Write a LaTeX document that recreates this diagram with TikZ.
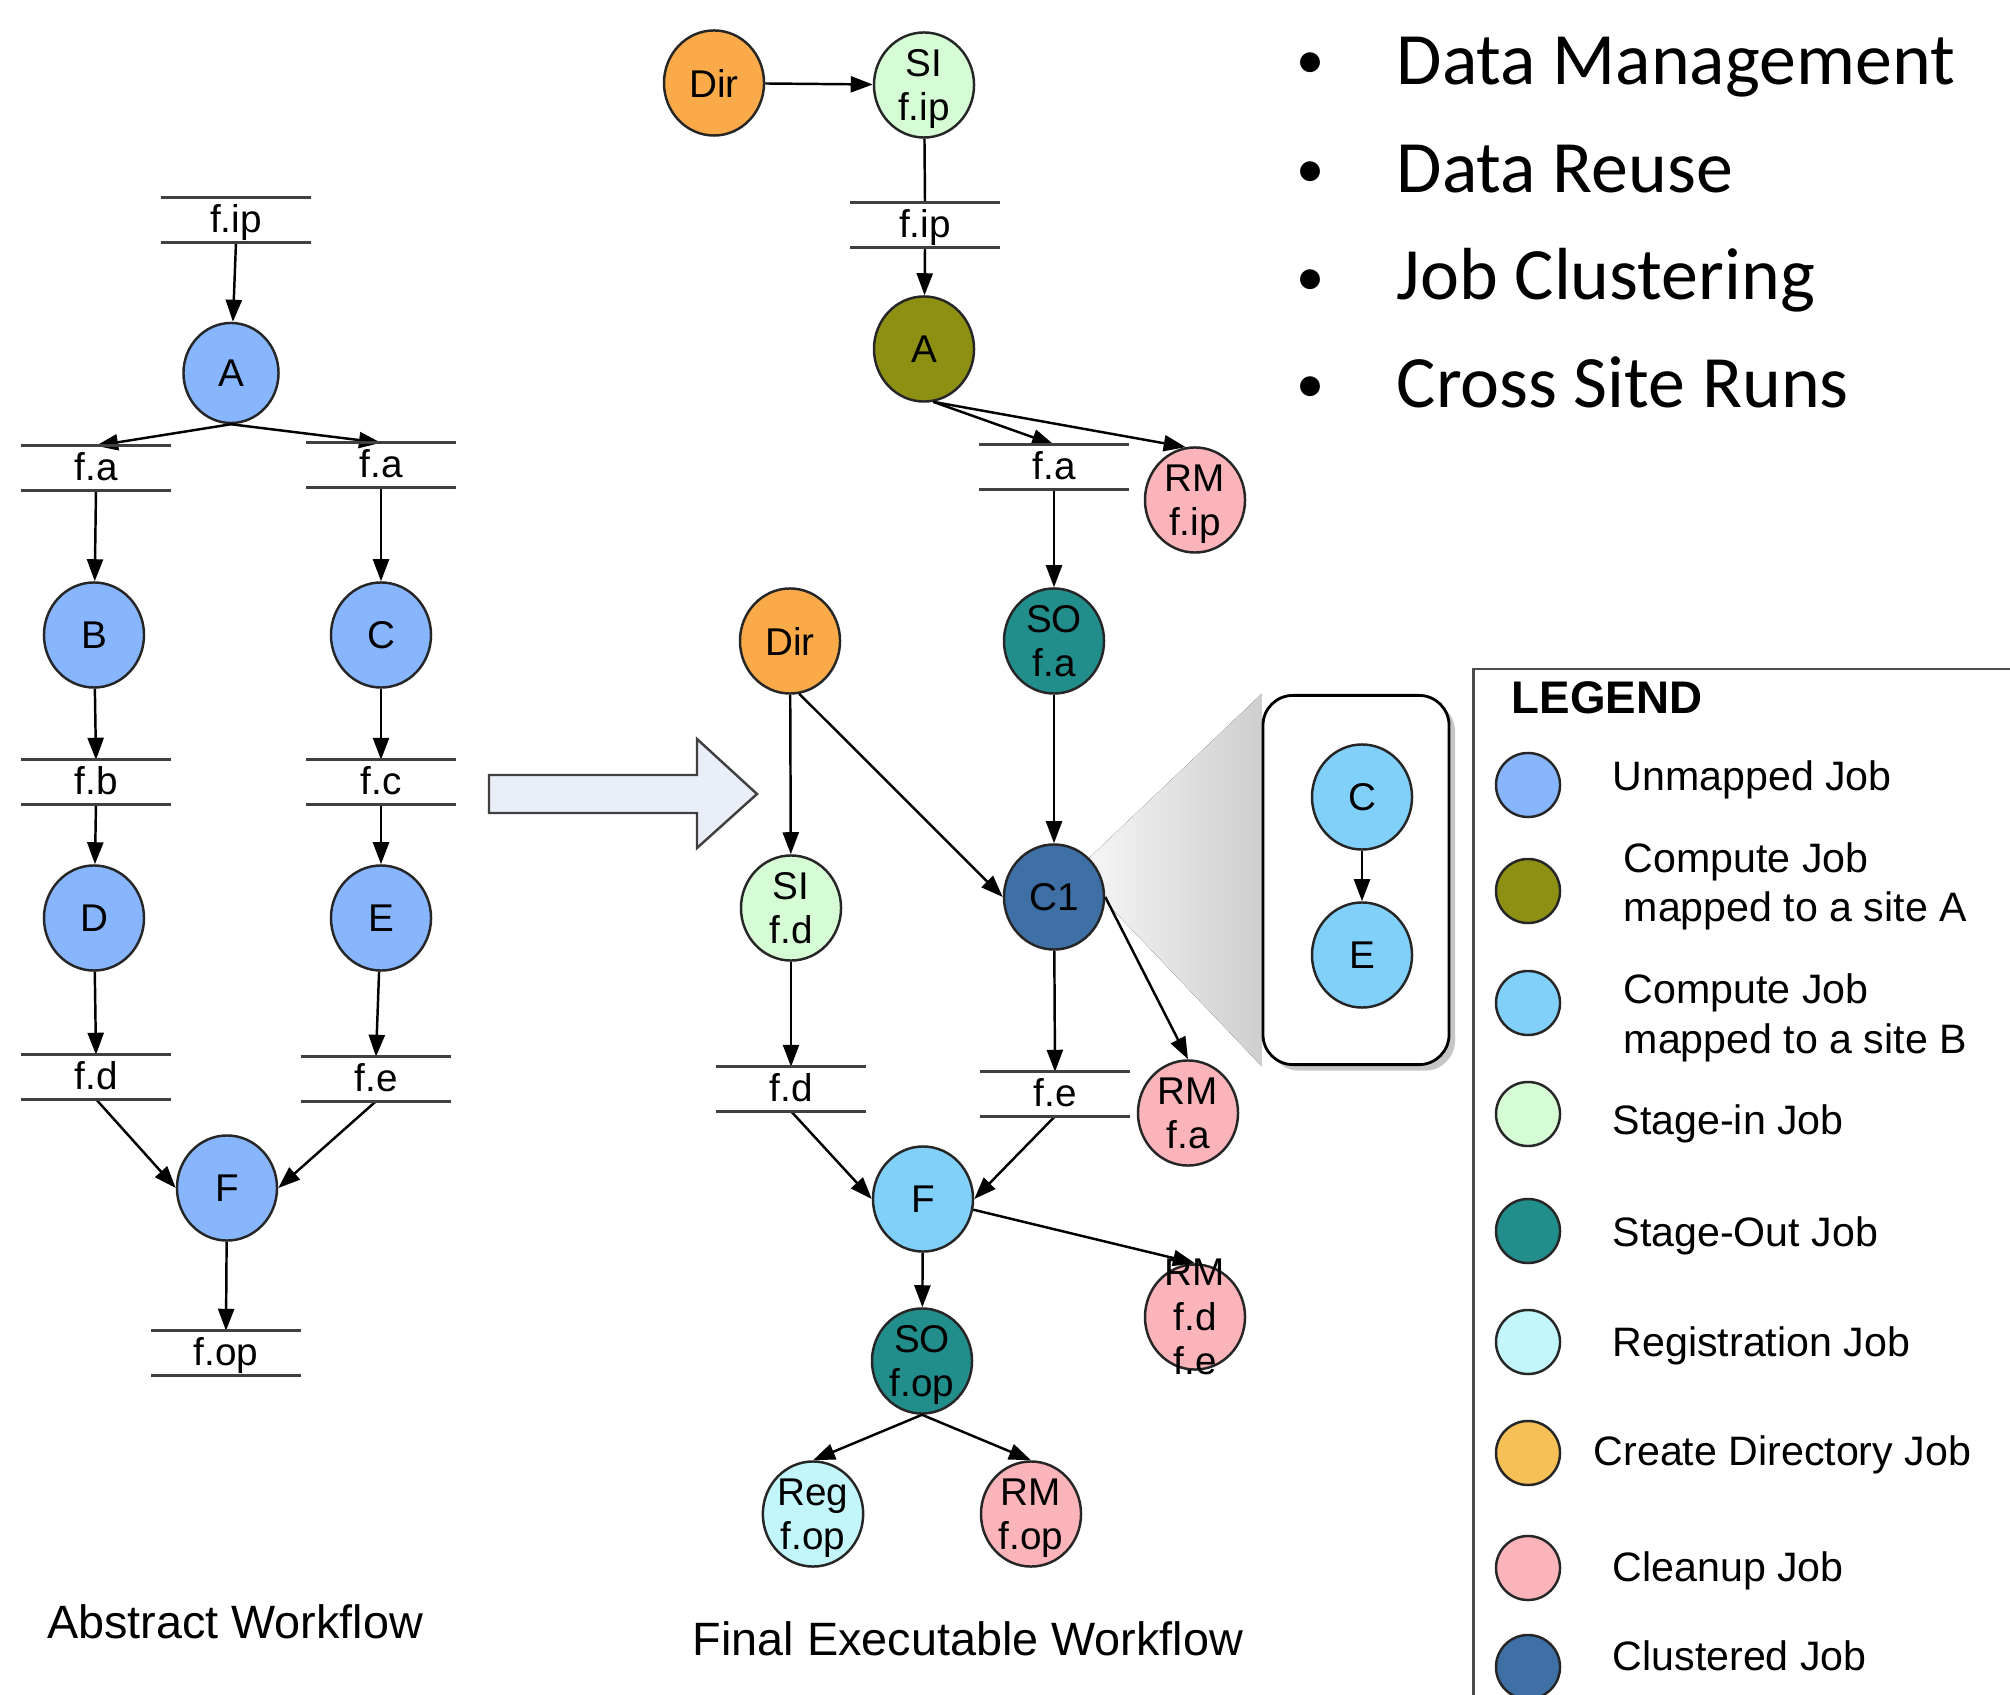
\documentclass[tikz,border=0pt]{standalone}
\usepackage{fontspec}
\setmainfont{Liberation Sans}
\newfontfamily\calib{Carlito}
\usetikzlibrary{arrows.meta,shapes.geometric,shadows,backgrounds}

\definecolor{unmapped}{RGB}{135,182,255}
\definecolor{siteA}{RGB}{142,144,20}
\definecolor{siteB}{RGB}{128,208,250}
\definecolor{stagein}{RGB}{214,252,214}
\definecolor{stageout}{RGB}{34,142,140}
\definecolor{regjob}{RGB}{194,246,250}
\definecolor{dirjob}{RGB}{250,170,72}
\definecolor{dirleg}{RGB}{246,192,86}
\definecolor{cleanup}{RGB}{250,180,186}
\definecolor{clustered}{RGB}{62,112,166}
\definecolor{bigarrow}{RGB}{234,238,248}

\newcommand\fjob{\fontsize{11}{12.6}\selectfont}
\newcommand\fleg{\fontsize{11.7}{14}\selectfont}
\newcommand\fbul{\calib\fontsize{21}{25}\selectfont}
\newcommand\fdot{\calib\fontsize{16}{19}\selectfont}
\newcommand\ftitle{\fontsize{13.3}{16}\selectfont}

\begin{document}
\begin{tikzpicture}[x=0.01cm,y=-0.01cm,
  job/.style={ellipse, draw=black!85, line width=0.7pt, minimum width=1cm,
    minimum height=1.05cm, inner sep=0pt, align=center, font=\fjob, text depth=0pt},
  file/.style={minimum width=1.48cm, inner sep=0pt, text height=0.34cm,
    text depth=0.09cm, font=\fjob},
  fileline/.style={line width=0.85pt, black!75},
  conn/.style={line width=0.7pt, -{Triangle[length=0.22cm,width=0.16cm]}},
  lineonly/.style={line width=0.7pt},
  legdot/.style={ellipse, draw=black!85, line width=0.7pt, minimum width=0.64cm,
    minimum height=0.64cm, inner sep=0pt},
  legtxt/.style={anchor=base west, font=\fleg, inner sep=0pt},
  bul/.style={anchor=base, font=\fdot, inner sep=0pt},
  bultxt/.style={anchor=base west, font=\fbul, inner sep=0pt},
]
\clip (0,0) rectangle (2010,1695);
\useasboundingbox (0,0) rectangle (2010,1695);

% ---------------- Abstract workflow ----------------
\node[file] (fip1) at (236,220) {f.ip};
\node[job, fill=unmapped, minimum width=0.95cm, minimum height=1cm] (A1) at (231,373) {A};
\node[file] (fa1) at (96,468) {f.a};
\node[file] (fa2) at (381,465) {f.a};
\node[job, fill=unmapped] (B1) at (94,635) {B};
\node[job, fill=unmapped] (C1a) at (381,635) {C};
\node[file] (fb) at (96,782) {f.b};
\node[file] (fc) at (381,782) {f.c};
\node[job, fill=unmapped] (D1) at (94,918) {D};
\node[job, fill=unmapped] (E1) at (381,918) {E};
\node[file] (fd1) at (96,1077) {f.d};
\node[file] (fe1) at (376,1079) {f.e};
\node[job, fill=unmapped] (F1) at (227,1188) {F};
\node[file] (fop) at (226,1353) {f.op};
\node[anchor=base, font=\ftitle, inner sep=0pt] (abst) at (235,1638) {Abstract Workflow};

\draw[conn] (fip1.south) -- (A1);
\draw[conn] (A1.south) -- (fa1.north);
\draw[conn] (A1.south) -- (fa2.north);
\draw[conn] (fa1.south) -- (B1);
\draw[conn] (fa2.south) -- (C1a);
\draw[conn] (B1) -- (fb.north);
\draw[conn] (C1a) -- (fc.north);
\draw[conn] (fb.south) -- (D1);
\draw[conn] (fc.south) -- (E1);
\draw[conn] (D1) -- (fd1.north);
\draw[conn] (E1) -- (fe1.north);
\draw[conn] (fd1.south) -- (F1.west);
\draw[conn] (fe1.south) -- (F1.east);
\draw[conn] (F1) -- (fop.north);

% ---------------- Big arrow ----------------
\draw[line width=0.7pt, draw=black!75, fill=bigarrow, line join=miter]
  (489,775) -- (697,775) -- (697,739) -- (757,794) -- (697,848) -- (697,813) -- (489,813) -- cycle;

% ---------------- Final executable workflow ----------------
\node[job, fill=dirjob] (Dir1) at (714,83) {Dir};
\node[job, fill=stagein] (SIfip) at (924,85) {SI\\f.ip};
\node[file] (fip2) at (925,225) {f.ip};
\node[job, fill=siteA] (A2) at (924,349) {A};
\node[file] (fa3) at (1054,467) {f.a};
\node[job, fill=cleanup] (RMfip) at (1195,500) {RM\\f.ip};
\node[job, fill=stageout] (SOfa) at (1054,641) {SO\\f.a};
\node[job, fill=dirjob] (Dir2) at (790,641) {Dir};
\node[job, fill=clustered] (C1) at (1054,897) {C1};
\node[job, fill=stagein] (SIfd) at (791,908) {SI\\f.d};
\node[file] (fd2) at (791,1089) {f.d};
\node[file] (fe2) at (1055,1094) {f.e};
\node[job, fill=cleanup] (RMfa) at (1188,1113) {RM\\f.a};
\node[job, fill=siteB] (F2) at (923,1199) {F};
\node[job, fill=cleanup, label={[font=\fjob, align=center, inner sep=0pt]center:RM\\f.d\\f.e}] (RMdfe) at (1195,1317) {};
\node[job, fill=stageout] (SOfop) at (922,1361) {SO\\f.op};
\node[job, fill=regjob] (Regfop) at (813,1514) {Reg\\f.op};
\node[job, fill=cleanup] (RMfop) at (1031,1514) {RM\\f.op};
\node[anchor=base, font=\ftitle, inner sep=0pt] (fin) at (968,1655) {Final Executable Workflow};

% inset
\node[draw, line width=0.8pt, rounded corners=0.3cm, fill=white, minimum width=1.86cm,
  minimum height=3.69cm, drop shadow={shadow xshift=0.06cm, shadow yshift=-0.06cm, opacity=0.45}] (inset) at (1356,880) {};
\node[job, fill=siteB] (Cin) at (1362,797) {C};
\node[job, fill=siteB] (Ein) at (1362,955) {E};
\draw[conn] (Cin) -- (Ein);

\begin{pgfonlayer}{background}
  \fill[left color=gray!8, right color=gray!38]
    (C1.48) -- (inset.north west) -- (inset.south west) -- (C1.-5) -- cycle;
\end{pgfonlayer}

\draw[conn] (Dir1) -- (SIfip);
\draw[lineonly] (SIfip) -- (fip2.north);
\draw[conn] (fip2.south) -- (A2);
\draw[conn] (A2.-80) -- (fa3.north);
\draw[conn] (A2.-80) -- (RMfip.100);
\draw[conn] (fa3.south) -- (SOfa);
\draw[conn] (SOfa) -- (C1);
\draw[conn] (Dir2) -- (SIfd);
\draw[conn] (Dir2.-80) -- (C1.west);
\draw[conn] (C1) -- (fe2.north);
\draw[conn] (C1.east) -- (RMfa.north);
\draw[conn] (SIfd) -- (fd2.north);
\draw[conn] (fd2.south) -- (F2.west);
\draw[conn] (fe2.south) -- (F2.east);
\draw[conn] (F2.-12) -- (RMdfe.north);
\draw[conn] (F2) -- (SOfop);
\draw[conn] (SOfop.south) -- (Regfop.north);
\draw[conn] (SOfop.south) -- (RMfop.north);

% file box lines
\foreach \n in {fip1,fa1,fa2,fb,fc,fd1,fe1,fop,fip2,fa3,fd2,fe2}
  \draw[fileline] (\n.north west) -- (\n.north east) (\n.south west) -- (\n.south east);

% ---------------- Bullets ----------------
\node[bul] (b1) at (1310,79) {•};
\node[bultxt] (t1) at (1396,85) {Data Management};
\node[bul] (b2) at (1310,188) {•};
\node[bultxt] (t2) at (1396,193) {Data Reuse};
\node[bul] (b3) at (1310,296) {•};
\node[bultxt] (t3) at (1396,300) {Job Clustering};
\node[bul] (b4) at (1310,403) {•};
\node[bultxt] (t4) at (1396,408) {Cross Site Runs};

% ---------------- Legend ----------------
\draw[line width=0.85pt, black!70] (1473,1720) -- (1473,669) -- (2030,669);
\node[anchor=base west, font=\bfseries\fontsize{13}{15}\selectfont, inner sep=0pt] (legt) at (1511,713) {LEGEND};
\node[legdot, fill=unmapped] (l1) at (1528,785) {};
\node[legtxt] (lt1) at (1612,790) {Unmapped Job};
\node[legdot, fill=siteA] (l2) at (1528,891) {};
\node[legtxt] (lt2a) at (1623,872) {Compute Job};
\node[legtxt] (lt2b) at (1623,921) {mapped to a site A};
\node[legdot, fill=siteB] (l3) at (1528,1003) {};
\node[legtxt] (lt3a) at (1623,1003) {Compute Job};
\node[legtxt] (lt3b) at (1623,1053) {mapped to a site B};
\node[legdot, fill=stagein] (l4) at (1528,1114) {};
\node[legtxt] (lt4) at (1612,1134) {Stage-in Job};
\node[legdot, fill=stageout] (l5) at (1528,1231) {};
\node[legtxt] (lt5) at (1612,1246) {Stage-Out Job};
\node[legdot, fill=regjob] (l6) at (1528,1342) {};
\node[legtxt] (lt6) at (1612,1356) {Registration Job};
\node[legdot, fill=dirleg] (l7) at (1528,1453) {};
\node[legtxt] (lt7) at (1593,1465) {Create Directory Job};
\node[legdot, fill=cleanup] (l8) at (1528,1568) {};
\node[legtxt] (lt8) at (1612,1581) {Cleanup Job};
\node[legdot, fill=clustered] (l9) at (1528,1667) {};
\node[legtxt] (lt9) at (1612,1670) {Clustered Job};
\end{tikzpicture}
\end{document}
